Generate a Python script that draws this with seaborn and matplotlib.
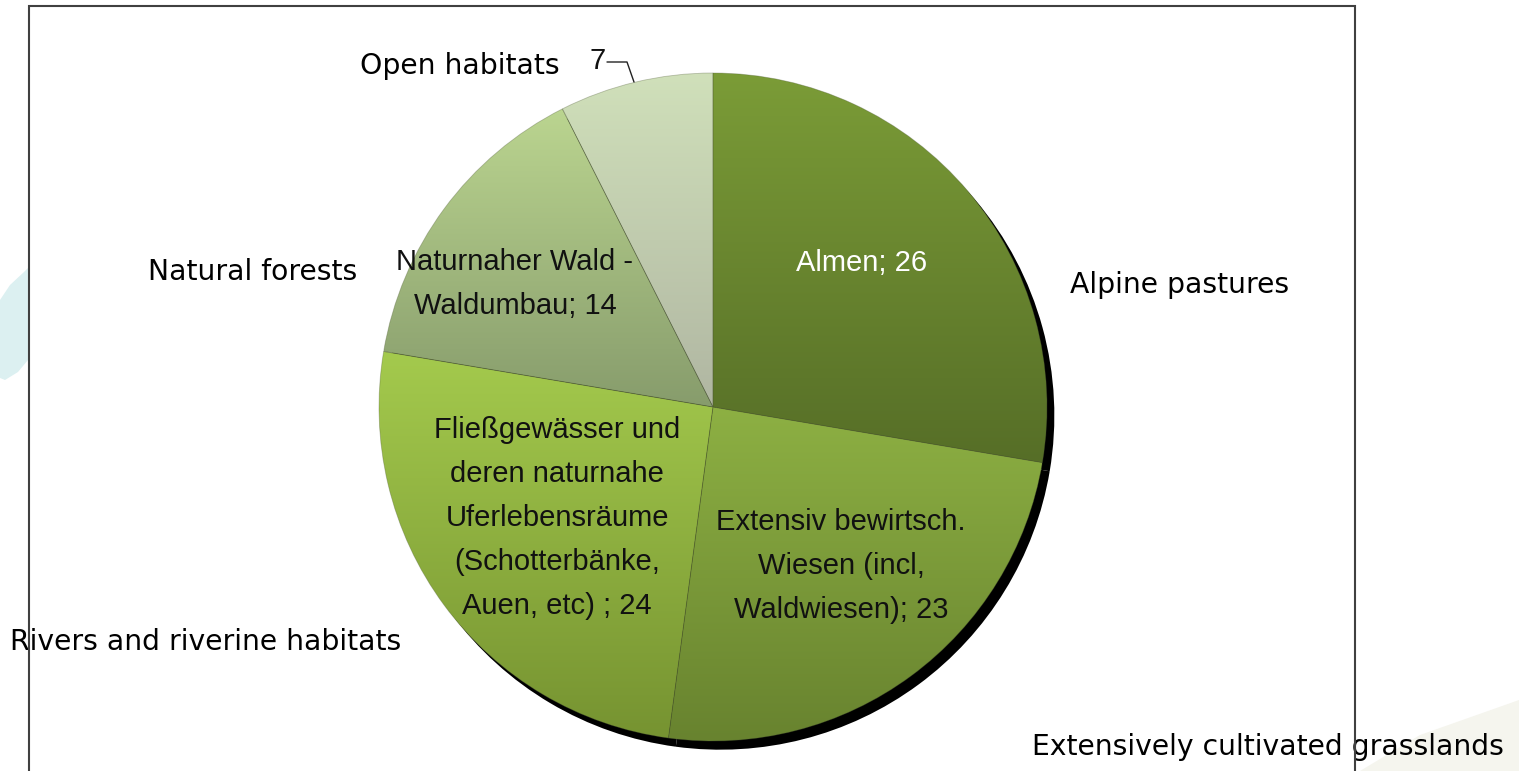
import numpy as np
import matplotlib
matplotlib.use("Agg")
import matplotlib.pyplot as plt
import seaborn as sns
from matplotlib.colors import LinearSegmentedColormap
from matplotlib.patches import Rectangle, Polygon

sns.set_theme(style="white")

# ---- data ----
categories = ["Almen", "Extensiv bewirtsch.\nWiesen (incl,\nWaldwiesen)",
              "Fließgewässer und\nderen naturnahe\nUferlebensräume\n(Schotterbänke,\nAuen, etc) ",
              "Naturnaher Wald -\nWaldumbau", "Open habitats"]
values = [26, 23, 24, 14, 7]
english_labels = ["Alpine pastures", "Extensively cultivated grasslands",
                  "Rivers and riverine habitats", "Natural forests", "Open habitats"]
top_colors = ["#7b9c37", "#8db043", "#a4ca4d", "#bbd590", "#d0e0ba"]
bottom_colors = ["#566e27", "#68832f", "#769331", "#879c6c", "#b0b6a2"]

W, H, DPI = 1519, 771, 100
fig = plt.figure(figsize=(W / DPI, H / DPI), dpi=DPI)
fig.patch.set_facecolor("white")

def F(px, py):
    return [px / W, 1 - py / H]

# background decorations (faint)
fig.patches.append(Polygon([F(0, 300), F(10, 285), F(24, 272), F(28, 268), F(28, 360),
                            F(18, 372), F(5, 380), F(0, 378)],
                           closed=True, transform=fig.transFigure, facecolor="#dcf0f1",
                           edgecolor="none", zorder=-5))
fig.patches.append(Polygon([F(1360, 771), F(1420, 735), F(1519, 700), F(1519, 771)],
                           closed=True, transform=fig.transFigure, facecolor="#f5f5ee",
                           edgecolor="none", zorder=-5))

cx, cy, R = 713, 407, 334
ax = fig.add_axes([0, 0, 1, 1])
ax.patch.set_alpha(0)

def P(px, py):
    return ((px - cx) / R, (cy - py) / R)

def limits():
    ax.set_xlim(-cx / R, (W - cx) / R)
    ax.set_ylim(-(H - cy) / R, cy / R)
    ax.set_axis_off()

# shadow
ax.pie(values, colors=["black"] * len(values), startangle=90, counterclock=False,
       radius=1.0, center=(0.022, -0.026), wedgeprops=dict(linewidth=0), frame=True)

wedges, _ = ax.pie(values, colors=top_colors, startangle=90, counterclock=False,
                   radius=1.0, wedgeprops=dict(linewidth=0.6, edgecolor=(0.3, 0.35, 0.2, 0.35)),
                   frame=True)
limits()

grad = np.linspace(0, 1, 256).reshape(-1, 1)
for w, tc, bc in zip(wedges, top_colors, bottom_colors):
    t = np.radians(np.linspace(w.theta1, w.theta2, 200))
    ys = np.concatenate([np.sin(t) * w.r + w.center[1], [w.center[1]]])
    xs = np.concatenate([np.cos(t) * w.r + w.center[0], [w.center[0]]])
    cmap = LinearSegmentedColormap.from_list("g", [tc, bc])
    im = ax.imshow(grad, cmap=cmap, aspect="auto",
                   extent=(xs.min(), xs.max(), ys.min(), ys.max()),
                   origin="upper", zorder=w.get_zorder() + 0.1)
    im.set_clip_path(w)
for w in wedges:
    w.set_zorder(5)
    w.set_facecolor("none")
limits()

inner_font = ["Liberation Sans Narrow", "Liberation Sans", "DejaVu Sans"]
inner_pos = [(862, 263), (841, 566), (557, 518), (515, 284), None]
inner_col = ["white", "#111111", "#111111", "#111111", None]
for cat, v, pos, col in zip(categories, values, inner_pos, inner_col):
    if pos is None:
        continue
    ax.text(*P(*pos), f"{cat}; {v}", ha="center", va="center", fontsize=21,
            color=col, family=inner_font, linespacing=1.72, zorder=10)

# Open habitats value label with leader line
ax.text(*P(598, 61), f"{values[4]}", ha="center", va="center", fontsize=21,
        color="#111111", family=inner_font, zorder=10)
ax.plot([P(607, 62)[0], P(627, 62)[0], P(634, 82)[0]],
        [P(607, 62)[1], P(627, 62)[1], P(634, 82)[1]], color="#222222", lw=1, zorder=10)

outer_font = ["DejaVu Sans"]
outer_pos = [(1070, 285), (1032, 747), (10, 642), (148, 272), (360, 66)]
for lab, (px, py) in zip(english_labels, outer_pos):
    ax.text(*P(px, py), lab, ha="left", va="center", fontsize=20.3, color="black",
            family=outer_font, zorder=10)

# frame
fig.patches.append(Rectangle((29 / W, -0.05), (1355 - 29) / W, 1 - 6 / H + 0.05,
                             transform=fig.transFigure, fill=False,
                             edgecolor="#404040", linewidth=1.5, zorder=20))

fig.savefig("out.png", dpi=DPI, facecolor="white")
